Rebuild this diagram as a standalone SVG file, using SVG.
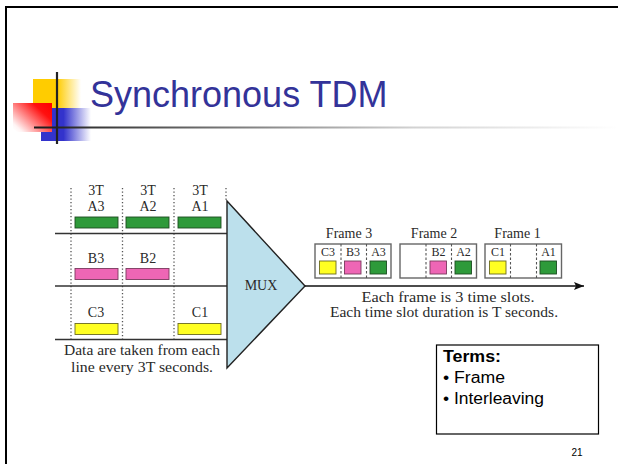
<svg xmlns="http://www.w3.org/2000/svg" width="618" height="464" viewBox="0 0 618 464">
  <defs>
    <linearGradient id="gYellow" x1="0" y1="0" x2="1" y2="0">
      <stop offset="0" stop-color="#FFCC00"/>
      <stop offset="0.5" stop-color="#FFCC00"/>
      <stop offset="1" stop-color="#FFFFFF"/>
    </linearGradient>
    <linearGradient id="gRed" x1="1" y1="0.1" x2="0" y2="0.9">
      <stop offset="0" stop-color="#FF0000"/>
      <stop offset="0.25" stop-color="#FF1010"/>
      <stop offset="0.9" stop-color="#FFF4F4"/>
      <stop offset="1" stop-color="#FFFFFF"/>
    </linearGradient>
    <linearGradient id="gBlue" x1="0" y1="0" x2="1" y2="0">
      <stop offset="0" stop-color="#3333CC"/>
      <stop offset="0.45" stop-color="#3333CC"/>
      <stop offset="1" stop-color="#FFFFFF"/>
    </linearGradient>
    <linearGradient id="gRule" gradientUnits="userSpaceOnUse" x1="34" y1="0" x2="618" y2="0">
      <stop offset="0" stop-color="#1a1a1a"/>
      <stop offset="0.65" stop-color="#d2d2d2"/>
      <stop offset="1" stop-color="#ffffff"/>
    </linearGradient>
    <marker id="arrowHead" viewBox="0 0 10 8" refX="10" refY="4" markerWidth="10" markerHeight="8" markerUnits="userSpaceOnUse" orient="auto">
      <path d="M0,0 L10,4 L0,8 L2,4 Z" fill="#111"/>
    </marker>
  </defs>
  <style>
    .serif { font-family: "Liberation Serif", "Times New Roman", serif; fill: #2a2a2a; }
    .lbl { font-size: 14px; text-anchor: middle; }
    .slotlbl { font-size: 12px; text-anchor: middle; }
    .dots { stroke: #555; stroke-width: 1.3; stroke-dasharray: 1.3 2.2; fill: none; }
    .dash { stroke: #555; stroke-width: 1.1; stroke-dasharray: 2.5 2; fill: none; }
    .rowline { stroke: #333; stroke-width: 1.4; }
    .green { fill: #2E9A3A; stroke: #1d4d22; stroke-width: 0.9; }
    .pink { fill: #EE66B5; stroke: #7a3a5e; stroke-width: 0.9; }
    .yellow { fill: #FFFF22; stroke: #6b6b20; stroke-width: 0.9; }
    .frame { fill: #ffffff; stroke: #666; stroke-width: 1.4; }
    .sans { font-family: "Liberation Sans", Arial, sans-serif; fill: #000; }
  </style>

  <rect width="618" height="464" fill="#ffffff"/>

  <!-- slide border -->
  <path d="M6,464 V7 H618" fill="none" stroke="#000" stroke-width="2"/>

  <!-- title decoration -->
  <g id="title-mark">
    <rect x="33" y="79" width="48" height="29" fill="url(#gYellow)"/>
    <rect x="41" y="108" width="50" height="33" fill="url(#gBlue)"/>
    <rect x="13" y="103" width="39" height="29" fill="url(#gRed)"/>
    <line x1="34" y1="127.5" x2="618" y2="127.5" stroke="url(#gRule)" stroke-width="2"/>
    <line x1="57" y1="72" x2="57" y2="144" stroke="#222" stroke-width="2.2"/>
  </g>
  <text x="90" y="107" font-family="'Liberation Sans', Arial, sans-serif" font-size="36" fill="#333399">Synchronous TDM</text>

  <!-- input lines and time grid -->
  <g id="time-grid">
    <line class="dots" x1="71" y1="188" x2="71" y2="340"/>
    <line class="dots" x1="122.5" y1="188" x2="122.5" y2="340"/>
    <line class="dots" x1="174" y1="188" x2="174" y2="340"/>
    <line class="dots" x1="226" y1="188" x2="226" y2="201"/>
    <text class="serif lbl" x="96" y="195">3T</text>
    <text class="serif lbl" x="148" y="195">3T</text>
    <text class="serif lbl" x="200" y="195">3T</text>
  </g>

  <g id="line-A">
    <line class="rowline" x1="55" y1="233.5" x2="227" y2="233.5"/>
    <text class="serif lbl" x="96" y="211">A3</text>
    <text class="serif lbl" x="148" y="211">A2</text>
    <text class="serif lbl" x="200" y="211">A1</text>
    <rect class="green" x="75" y="217" width="43" height="11"/>
    <rect class="green" x="126" y="217" width="43" height="11"/>
    <rect class="green" x="178" y="217" width="43" height="11"/>
  </g>

  <g id="line-B">
    <line class="rowline" x1="55" y1="286" x2="227" y2="286"/>
    <text class="serif lbl" x="96" y="263">B3</text>
    <text class="serif lbl" x="148" y="263">B2</text>
    <rect class="pink" x="75" y="268.5" width="43" height="11"/>
    <rect class="pink" x="126" y="268.5" width="43" height="11"/>
  </g>

  <g id="line-C">
    <line class="rowline" x1="55" y1="339.5" x2="227" y2="339.5"/>
    <text class="serif lbl" x="96" y="317">C3</text>
    <text class="serif lbl" x="200" y="317">C1</text>
    <rect class="yellow" x="75" y="323.5" width="43" height="11"/>
    <rect class="yellow" x="178" y="323.5" width="43" height="11"/>
  </g>

  <g id="input-note">
    <text class="serif lbl" x="142" y="355" textLength="156" lengthAdjust="spacingAndGlyphs">Data are taken from each</text>
    <text class="serif lbl" x="142" y="371.5" textLength="142" lengthAdjust="spacingAndGlyphs">line every 3T seconds.</text>
  </g>

  <!-- multiplexer -->
  <g id="mux">
    <path d="M227,201 L305,286 L227,368 Z" fill="#BCE0EC" stroke="#222" stroke-width="1.4" stroke-linejoin="miter"/>
    <text class="serif lbl" x="261" y="290">MUX</text>
  </g>

  <!-- output link -->
  <g id="connectors">
    <line x1="305" y1="286" x2="584" y2="286" stroke="#111" stroke-width="1.4" marker-end="url(#arrowHead)"/>
  </g>

  <g id="frame-3">
    <text class="serif lbl" x="349" y="238">Frame 3</text>
    <rect class="frame" x="315" y="244" width="76" height="34"/>
    <line class="dash" x1="341" y1="244" x2="341" y2="278"/>
    <line class="dash" x1="366.5" y1="244" x2="366.5" y2="278"/>
    <text class="serif slotlbl" x="328" y="256">C3</text>
    <text class="serif slotlbl" x="353" y="256">B3</text>
    <text class="serif slotlbl" x="378.5" y="256">A3</text>
    <rect class="yellow" x="319.5" y="261" width="16.5" height="13"/>
    <rect class="pink" x="344.5" y="261" width="16.5" height="13"/>
    <rect class="green" x="370" y="261" width="16.5" height="13"/>
  </g>

  <g id="frame-2">
    <text class="serif lbl" x="434" y="238">Frame 2</text>
    <rect class="frame" x="400" y="244" width="76.5" height="34"/>
    <line class="dash" x1="426" y1="244" x2="426" y2="278"/>
    <line class="dash" x1="451.5" y1="244" x2="451.5" y2="278"/>
    <text class="serif slotlbl" x="438.5" y="256">B2</text>
    <text class="serif slotlbl" x="463.5" y="256">A2</text>
    <rect class="pink" x="430" y="261" width="16.5" height="13"/>
    <rect class="green" x="455" y="261" width="16.5" height="13"/>
  </g>

  <g id="frame-1">
    <text class="serif lbl" x="517.5" y="238">Frame 1</text>
    <rect class="frame" x="485" y="244" width="76.5" height="34"/>
    <line class="dash" x1="510.5" y1="244" x2="510.5" y2="278"/>
    <line class="dash" x1="536.5" y1="244" x2="536.5" y2="278"/>
    <text class="serif slotlbl" x="498" y="256">C1</text>
    <text class="serif slotlbl" x="548.5" y="256">A1</text>
    <rect class="yellow" x="489.5" y="261" width="16.5" height="13"/>
    <rect class="green" x="540" y="261" width="16.5" height="13"/>
  </g>

  <g id="output-note">
    <text class="serif lbl" x="448" y="302" textLength="173" lengthAdjust="spacingAndGlyphs">Each frame is 3 time slots.</text>
    <text class="serif lbl" x="444" y="317" textLength="228" lengthAdjust="spacingAndGlyphs">Each time slot duration is T seconds.</text>
  </g>

  <!-- terms box -->
  <g id="terms">
    <rect x="436.5" y="345" width="162" height="89" fill="#fff" stroke="#000" stroke-width="1.2"/>
    <text class="sans" x="443" y="362" font-size="16" font-weight="bold" textLength="58" lengthAdjust="spacingAndGlyphs">Terms:</text>
    <text class="sans" x="443" y="383" font-size="16" textLength="62" lengthAdjust="spacingAndGlyphs">• Frame</text>
    <text class="sans" x="443" y="404" font-size="16" textLength="101" lengthAdjust="spacingAndGlyphs">• Interleaving</text>
  </g>

  <text class="sans" x="577" y="456" font-size="10" text-anchor="middle" fill="#222">21</text>
</svg>
